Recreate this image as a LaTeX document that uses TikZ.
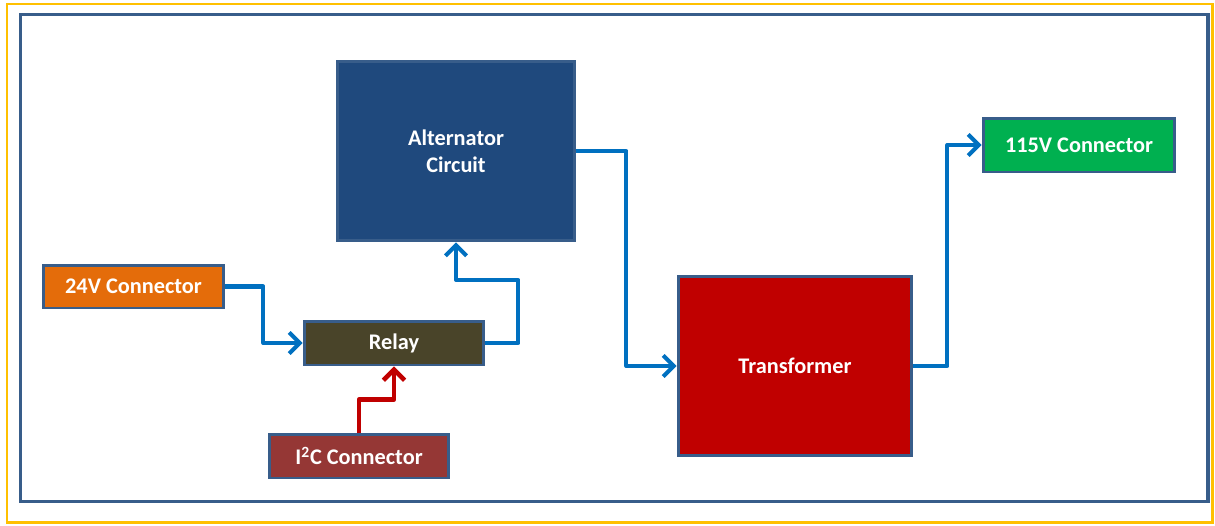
\documentclass[tikz,border=0pt]{standalone}
\usepackage{fontspec}
\setmainfont{Carlito}
\usepackage{tikz}
\usetikzlibrary{arrows.meta, positioning, calc}
\definecolor{frameblue}{HTML}{385D8A}
\definecolor{frameyellow}{HTML}{FFC000}
\definecolor{wireblue}{HTML}{0070C0}
\definecolor{wirered}{HTML}{C00000}
\definecolor{altblue}{HTML}{1F497D}
\definecolor{gogreen}{HTML}{00B050}
\definecolor{supplyorange}{HTML}{E46C0A}
\definecolor{relayolive}{HTML}{494429}
\definecolor{busred}{HTML}{953735}
\definecolor{transred}{HTML}{C00000}

\begin{document}
\begin{tikzpicture}[x=0.02cm, y=-0.02cm,
    block/.style={rectangle, draw=frameblue, line width=1.7pt, text=white, align=center, inner sep=0pt, font=\fontsize{12.7}{15.3}\selectfont\bfseries},
    flow/.style={-{Straight Barb[length=6pt, width=12pt]}, draw=wireblue, line width=2.3pt, line join=round},
    ctrl/.style={-{Straight Barb[length=6pt, width=12pt]}, draw=wirered, line width=2.6pt, line join=round}
]
\useasboundingbox (0,0) rectangle (1215,525);
% frames
\draw[frameyellow, line width=1.7pt] (7,4) rectangle (1212,522);
\draw[frameblue, line width=2pt] (20.5,14.5) rectangle (1208,501.5);

\node[block, fill=altblue, minimum width=4.76cm, minimum height=3.6cm] (alt) at (456,151) {Alternator\\Circuit};
\node[block, fill=gogreen, minimum width=3.84cm, minimum height=1.08cm] (out115) at (1079,145) {115V Connector};
\node[block, fill=supplyorange, minimum width=3.62cm, minimum height=0.86cm] (in24) at (133.5,286.5) {24V Connector};
\node[block, fill=relayolive, minimum width=3.6cm, minimum height=0.88cm] (relay) at (394,343) {Relay};
\node[block, fill=busred, minimum width=3.6cm, minimum height=0.88cm] (i2c) at (359,456) {I\textsuperscript{2}C Connector};
\node[block, fill=transred, minimum width=4.68cm, minimum height=3.6cm] (trans) at (795,366) {Transformer};

\draw[flow] (in24.east) -- ++(38,0) |- (relay.west);
\draw[flow] (relay.east) -| ++(33,-63) -| (alt.south);
\draw[flow] (alt.east) -- ++(50,0) |- (trans.west);
\draw[flow] (trans.east) -- ++(34,0) |- (out115.west);
\draw[ctrl] (i2c.north) -- ++(0,-33) -| (relay.south);
\end{tikzpicture}
\end{document}
